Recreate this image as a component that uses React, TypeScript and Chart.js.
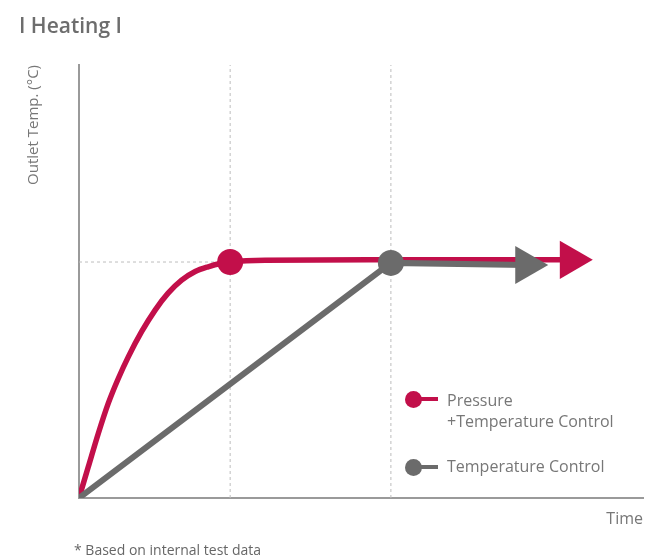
import React, { useEffect, useRef } from "react";
import { Chart, registerables } from "chart.js";

Chart.register(...registerables);

// Data (time in arbitrary units 0..10, temperature in % of axis 0..100)
const pressureTime = [0, 0.165, 0.342, 0.52, 0.697, 0.874, 1.11, 1.35, 1.58, 1.82, 2.06, 2.29, 2.53, 2.68, 3.3, 5.5, 8.72];
const pressureTemp = [0, 7.2, 14.9, 21.9, 27.6, 32.6, 38.4, 43.4, 47.3, 50.3, 52.3, 53.4, 54.2, 54.5, 54.9, 55.0, 55.0];
const tempCtrlTime = [0, 5.53, 7.93];
const tempCtrlTemp = [0, 54.3, 53.8];
const markerTimes = [2.68, 5.53];
const plateauTemp = 54.5;
const axisMax = { time: 10, temp: 100 };

const RED = "#c20f4a";
const GRAY = "#6b6b6b";
const TEXT = "#777777";
const FONT = "'Open Sans', 'Noto Sans', sans-serif";

function pointArrays(times: number[], markerTime: number) {
  const n = times.length;
  const radius = times.map((t, i) => (i === n - 1 ? 22 : t === markerTime ? 13 : 0));
  const style = times.map((_, i) => (i === n - 1 ? "triangle" : "circle"));
  const rot = times.map((_, i) => (i === n - 1 ? 90 : 0));
  return { radius, style, rot };
}

export default function App() {
  const ref = useRef<HTMLCanvasElement | null>(null);

  useEffect(() => {
    if (!ref.current) return;
    const red = pointArrays(pressureTime, markerTimes[0]);
    const gray = pointArrays(tempCtrlTime, markerTimes[1]);
    const guide = {
      borderColor: "#bdbdbd",
      borderWidth: 1,
      borderDash: [3, 3],
      pointRadius: 0,
      fill: false,
      tension: 0,
    };
    const chart = new Chart(ref.current, {
      type: "line",
      data: {
        datasets: [
          {
            label: "Temperature Control",
            data: tempCtrlTime.map((t, i) => ({ x: t, y: tempCtrlTemp[i] })),
            borderColor: GRAY,
            backgroundColor: GRAY,
            borderWidth: 6,
            pointRadius: gray.radius,
            pointStyle: gray.style as any,
            pointRotation: gray.rot,
            pointBackgroundColor: GRAY,
            pointBorderWidth: 0,
            tension: 0,
            fill: false,
          },
          {
            label: "Pressure +Temperature Control",
            data: pressureTime.map((t, i) => ({ x: t, y: pressureTemp[i] })),
            borderColor: RED,
            backgroundColor: RED,
            borderWidth: 5.5,
            pointRadius: red.radius,
            pointStyle: red.style as any,
            pointRotation: red.rot,
            pointBackgroundColor: RED,
            pointBorderWidth: 0,
            cubicInterpolationMode: "monotone",
            fill: false,
          },
          { ...guide, label: "g1", data: [{ x: 0, y: plateauTemp }, { x: markerTimes[0], y: plateauTemp }] },
          { ...guide, label: "g2", data: [{ x: markerTimes[0], y: 0 }, { x: markerTimes[0], y: axisMax.temp }] },
          { ...guide, label: "g3", data: [{ x: markerTimes[1], y: 0 }, { x: markerTimes[1], y: axisMax.temp }] },
        ],
      },
      options: {
        responsive: false,
        animation: false,
        events: [],
        layout: { autoPadding: false, padding: { left: 0, right: 6, top: 65, bottom: 0 } },
        plugins: { legend: { display: false }, tooltip: { enabled: false } },
        scales: {
          x: {
            type: "linear",
            min: 0,
            max: axisMax.time,
            ticks: { display: false },
            grid: { display: false, drawTicks: false },
            border: { display: true, color: "#9a9a9a", width: 2 },
            title: {
              display: true,
              text: "Time",
              align: "end",
              color: TEXT,
              font: { family: FONT, size: 16 },
              padding: { top: 0, bottom: 31 },
            },
            afterFit: (s: any) => {
              s.height = 62;
            },
          },
          y: {
            type: "linear",
            min: 0,
            max: axisMax.temp,
            ticks: { display: false },
            grid: { display: false, drawTicks: false },
            border: { display: true, color: "#9a9a9a", width: 2 },
            title: {
              display: true,
              text: "Outlet Temp. (°C)",
              align: "end",
              color: TEXT,
              font: { family: FONT, size: 15 },
              padding: { top: 25, bottom: 0 },
            },
            afterFit: (s: any) => {
              s.width = 79;
            },
          },
        },
      },
    });
    return () => chart.destroy();
  }, []);

  const legendText: React.CSSProperties = {
    position: "absolute",
    left: 447,
    fontFamily: FONT,
    fontSize: 16,
    lineHeight: "21px",
    color: TEXT,
    whiteSpace: "nowrap",
  };
  const marker = (color: string, cy: number) => (
    <>
      <div style={{ position: "absolute", left: 413, top: cy - 2, width: 25, height: 4, background: color }} />
      <div
        style={{
          position: "absolute",
          left: 405,
          top: cy - 8.5,
          width: 17,
          height: 17,
          borderRadius: "50%",
          background: color,
        }}
      />
    </>
  );

  return (
    <div style={{ position: "fixed", left: 0, top: 0, width: 649, height: 560, background: "#fff", overflow: "hidden" }}>
      <canvas ref={ref} width={649} height={560} style={{ position: "absolute", left: 0, top: 0, width: 649, height: 560 }} />
      <div
        style={{
          position: "absolute",
          left: 19,
          top: 10,
          fontFamily: FONT,
          fontSize: 21,
          fontWeight: 600,
          color: "#6d6d6d",
          lineHeight: "30px",
          whiteSpace: "nowrap",
        }}
      >
        I Heating I
      </div>
      {marker(RED, 399)}
      <div style={{ ...legendText, top: 390 }}>
        Pressure
        <br />
        +Temperature Control
      </div>
      {marker(GRAY, 467)}
      <div style={{ ...legendText, top: 455.5 }}>Temperature Control</div>
      <div
        style={{
          position: "absolute",
          left: 74,
          top: 540,
          fontFamily: FONT,
          fontSize: 14,
          lineHeight: "19px",
          color: "#666",
          whiteSpace: "nowrap",
        }}
      >
        * Based on internal test data
      </div>
    </div>
  );
}
